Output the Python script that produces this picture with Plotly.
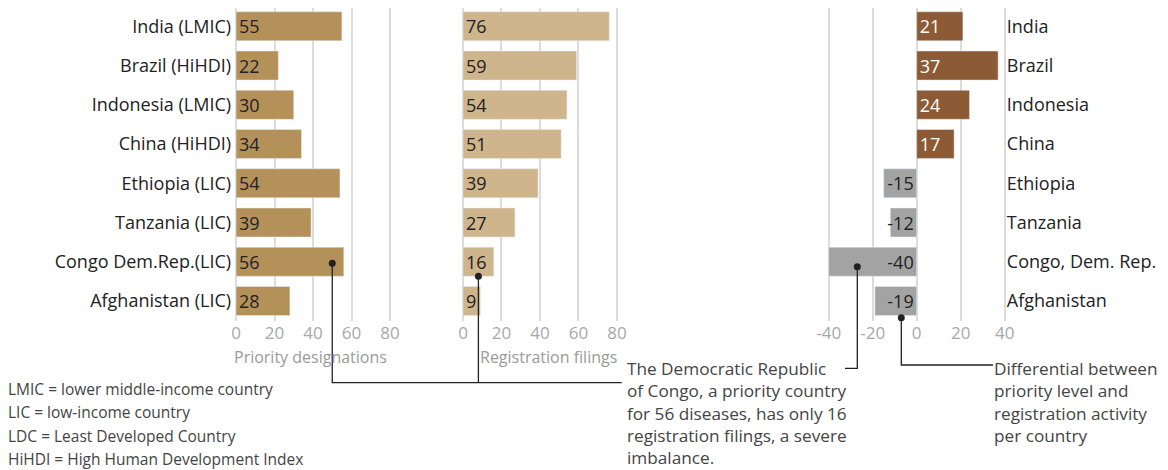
import plotly.graph_objects as go

# ---------------- data ----------------
countries_left = ["India (LMIC)", "Brazil (HiHDI)", "Indonesia (LMIC)", "China (HiHDI)",
                  "Ethiopia (LIC)", "Tanzania (LIC)", "Congo Dem.Rep.(LIC)", "Afghanistan (LIC)"]
countries_right = ["India", "Brazil", "Indonesia", "China", "Ethiopia", "Tanzania",
                   "Congo, Dem. Rep.", "Afghanistan"]
priority = [55, 22, 30, 34, 54, 39, 56, 28]
filings = [76, 59, 54, 51, 39, 27, 16, 9]
differential = [21, 37, 24, 17, -15, -12, -40, -19]
ticks_count = [0, 20, 40, 60, 80]
ticks_diff = [-40, -20, 0, 20, 40]
footnotes = ["LMIC = lower middle-income country", "LIC = low-income country",
             "LDC = Least Developed Country", "HiHDI = High Human Development Index"]
callout_congo = ["The Democratic Republic", "of Congo, a priority country",
                 "for 56 diseases, has only 16", "registration filings, a severe", "imbalance."]
callout_diff = ["Differential between", "priority level and", "registration activity", "per country"]

# ---------------- style ----------------
W, H = 1168, 470
OFF = 8  # page body margin: figure is drawn 8px right/down of the window corner
FONT = "Open Sans"
DARK = "#222222"
TEXT = "#444444"
GRID = "#dcdcdc"
TICK = "#a8a8a8"
C1, C2 = "#b5915a", "#cfb58c"
CPOS, CNEG = "#8c5a34", "#a3a3a3"

# window-pixel geometry of the three panels
P1 = dict(zero=236.0, scale=1.925, rng=[-1, 81])
P2 = dict(zero=463.0, scale=1.925, rng=[-1, 81])
P3 = dict(zero=916.7, scale=2.2, rng=[-40.5, 40.5])
ROW0, ROWSTEP = 26.3, 39.24
YR = [7.5, (OFF + 0.01 - ROW0) / ROWSTEP]


def fx(px):
    return (px - OFF) / W


def fy(py):
    return 1 - (py - OFF) / H


def dom(p):
    a = p["zero"] + p["rng"][0] * p["scale"]
    b = p["zero"] + p["rng"][1] * p["scale"]
    return [fx(a), fx(b)]


def xpx(p, v):
    return p["zero"] + v * p["scale"]


def ypx(v):
    return ROW0 + v * ROWSTEP


ydom = [max(0.0, fy(ypx(YR[0]))), min(1.0, fy(ypx(YR[1])))]
ypos = list(range(len(countries_left)))

fig = go.Figure()

bar_common = dict(orientation="h", textposition="inside", insidetextanchor="start",
                  constraintext="none", textangle=0, hoverinfo="skip", showlegend=False)
fig.add_trace(go.Bar(x=priority, y=ypos, marker_color=C1, text=[str(v) for v in priority],
                     textfont=dict(color=DARK, size=18, family=FONT),
                     xaxis="x", yaxis="y", **bar_common))
fig.add_trace(go.Bar(x=filings, y=ypos, marker_color=C2, text=[str(v) for v in filings],
                     textfont=dict(color=DARK, size=18, family=FONT),
                     xaxis="x2", yaxis="y2", **bar_common))
fig.add_trace(go.Bar(x=differential, y=ypos,
                     marker_color=[CPOS if v > 0 else CNEG for v in differential],
                     text=[str(v) for v in differential],
                     textfont=dict(color=["white" if v > 0 else DARK for v in differential],
                                   size=18, family=FONT),
                     xaxis="x3", yaxis="y3", **bar_common))

# callout dots (anchored to the data)
dot_p1 = (priority[6] - 6, 6.04)
dot_p2 = (filings[7] - 1, 6.37)
dot_p3a = (-27, 6.13)
dot_p3b = (-7, 7.43)
for (x, y), xa, ya in [(dot_p1, "x", "y"), (dot_p2, "x2", "y2"),
                        (dot_p3a, "x3", "y3"), (dot_p3b, "x3", "y3")]:
    fig.add_trace(go.Scatter(x=[x], y=[y], mode="markers", xaxis=xa, yaxis=ya,
                             marker=dict(color=DARK, size=7), cliponaxis=False,
                             hoverinfo="skip", showlegend=False))

xcommon = dict(showgrid=True, gridcolor=GRID, gridwidth=2, zeroline=False, showline=False,
               ticks="", automargin=False, fixedrange=True,
               tickfont=dict(size=17, color=TICK, family=FONT))
ycommon = dict(range=YR, showgrid=False, zeroline=False, showline=False, ticks="",
               tickvals=ypos, domain=ydom, automargin=False, fixedrange=True)

fig.update_layout(
    width=W, height=H, margin=dict(l=0, r=0, t=0, b=0),
    paper_bgcolor="white", plot_bgcolor="white",
    font=dict(family=FONT, color=DARK),
    bargap=0.26,
    xaxis=dict(domain=dom(P1), range=P1["rng"], tickvals=ticks_count,
               ticktext=[str(v) for v in ticks_count], **xcommon),
    xaxis2=dict(domain=dom(P2), range=P2["rng"], tickvals=ticks_count,
                ticktext=[str(v) for v in ticks_count], **xcommon),
    xaxis3=dict(domain=dom(P3), range=P3["rng"], tickvals=ticks_diff,
                ticktext=[str(v) for v in ticks_diff], **xcommon),
    yaxis=dict(anchor="x", ticktext=countries_left, side="left",
               tickfont=dict(size=18, color=DARK, family=FONT), ticklabelstandoff=2, **ycommon),
    yaxis2=dict(anchor="x2", showticklabels=False, **ycommon),
    yaxis3=dict(anchor="x3", ticktext=countries_right, side="right",
                tickfont=dict(size=18, color=DARK, family=FONT), ticklabelstandoff=0, **ycommon),
)

ann = []
ann.append(dict(x=fx(232), y=fy(357), text="Priority designations", xanchor="left",
                yanchor="middle", font=dict(size=16, color="#9a9a9a", family=FONT)))
ann.append(dict(x=fx(478), y=fy(357), text="Registration filings", xanchor="left",
                yanchor="middle", font=dict(size=16, color="#9a9a9a", family=FONT)))
for i, t in enumerate(footnotes):
    ann.append(dict(x=fx(6), y=fy(389 + 23.4 * i), text=t, xanchor="left",
                    yanchor="middle", font=dict(size=15.5, color=TEXT, family=FONT)))
# multi-line callouts: top line centred near y=369
ann.append(dict(x=fx(626), y=fy(356), text="<br>".join(callout_congo), xanchor="left",
                yanchor="top", align="left", borderpad=0,
                font=dict(size=17.2, color=TEXT, family=FONT)))
ann.append(dict(x=fx(993), y=fy(356), text="<br>".join(callout_diff), xanchor="left",
                yanchor="top", align="left", borderpad=0,
                font=dict(size=17.2, color=TEXT, family=FONT)))
for a in ann:
    a.update(xref="paper", yref="paper", showarrow=False)
fig.update_layout(annotations=ann)


def path(points):
    s = "M " + " L ".join(f"{fx(x):.5f},{fy(y):.5f}" for x, y in points)
    return dict(type="path", path=s, xref="paper", yref="paper",
                line=dict(color=DARK, width=1.3), layer="above")


x1 = xpx(P1, dot_p1[0]); y1 = ypx(dot_p1[1])
x2 = xpx(P2, dot_p2[0]); y2 = ypx(dot_p2[1])
x3 = xpx(P3, dot_p3a[0]); y3 = ypx(dot_p3a[1])
x4 = xpx(P3, dot_p3b[0]); y4 = ypx(dot_p3b[1])
fig.update_layout(shapes=[
    path([(x1, y1), (x1, 382.7), (621.7, 382.7)]),
    path([(x2, y2), (x2, 382.7)]),
    path([(x3, y3), (x3, 368.3), (845, 368.3)]),
    path([(x4, y4), (x4, 365), (993, 365)]),
])

fig.write_html("out.html")
